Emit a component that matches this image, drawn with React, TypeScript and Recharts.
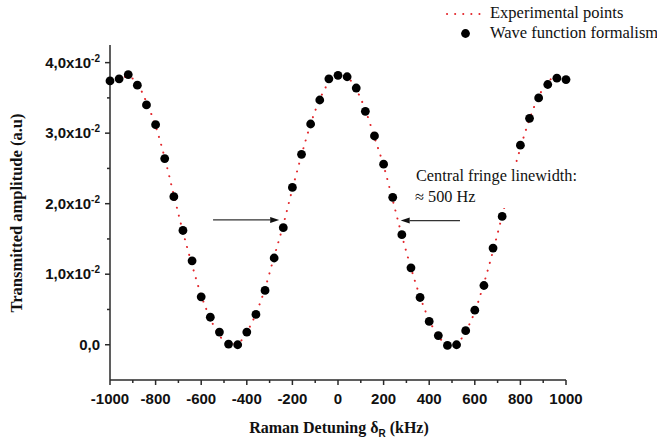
import { ComposedChart, Line, Scatter, XAxis, YAxis, ReferenceLine } from 'recharts'

// detuning in kHz, one point every 40 kHz
const detuning = [
  -1000, -960, -920, -880, -840, -800, -760, -720, -680, -640, -600, -560, -520,
  -480, -440, -400, -360, -320, -280, -240, -200, -160, -120, -80, -40, 0, 40, 80,
  120, 160, 200, 240, 280, 320, 360, 400, 440, 480, 520, 560, 600, 640, 680, 720,
  760, 800, 840, 880, 920, 960, 1000,
]

// black dots
const waveFunction = [
  0.0374, 0.0377, 0.0383, 0.0368, 0.034, 0.0312, 0.0264, 0.021, 0.0162, 0.0119,
  0.0068, 0.0039, 0.0018, 0.0001, 0.0, 0.0018, 0.0043, 0.0077, 0.0123, 0.0166,
  0.0223, 0.027, 0.0313, 0.0347, 0.0377, 0.0382, 0.038, 0.0364, 0.0331, 0.0296,
  0.0256, 0.0209, 0.0156, 0.0109, 0.0067, 0.0033, 0.0013, -0.0001, 0.0, 0.002,
  0.0049, 0.0084, 0.0137, 0.0182, 0.0232, 0.0283, 0.0321, 0.035, 0.0369, 0.0378,
  0.0376,
]

// red dotted curve
const experimental = [
  0.0372, 0.0379, 0.038, 0.037, 0.0344, 0.031, 0.0265, 0.0212, 0.016, 0.0113,
  0.007, 0.0037, 0.0013, 0.0001, 0.0002, 0.0018, 0.0044, 0.008, 0.0125, 0.017,
  0.0221, 0.0269, 0.0313, 0.0348, 0.0372, 0.0382, 0.0379, 0.0362, 0.0333, 0.0294,
  0.0254, 0.0205, 0.0155, 0.0109, 0.0068, 0.0035, 0.0012, 0.0001, 0.0002, 0.0019,
  0.0047, 0.0087, 0.0133, 0.0183, 0.0233, 0.0279, 0.032, 0.0352, 0.0372, 0.0381,
  0.0377,
]

const xMajor = [-1000, -800, -600, -400, -200, 0, 200, 400, 600, 800, 1000]
const xMinor = [-900, -700, -500, -300, -100, 100, 300, 500, 700, 900]
const yMajor = [0, 0.01, 0.02, 0.03, 0.04]
const yMantissa = ['0,0', '1,0', '2,0', '3,0', '4,0']
const yMinor = [0.005, 0.015, 0.025, 0.035]

const rows = detuning.map((x, i) => ({
  x,
  waveFunction: waveFunction[i],
  experimental: experimental[i],
}))

const AXIS = '#2a2a2a'
const RED = '#e3262b'
const SANS = '"Liberation Sans", Arial, sans-serif'
const SERIF = '"Liberation Serif", "Times New Roman", serif'

function XTick({ x, y, payload }: any) {
  const major = xMajor.includes(payload.value)
  return (
    <g>
      <line x1={x} y1={y} x2={x} y2={y + (major ? 5 : 3)} stroke={AXIS} strokeWidth={1.5} />
      {major && (
        <text x={x} y={y + 24} textAnchor="middle" fontFamily={SANS} fontWeight="bold" fontSize={15} fill="#111">
          {payload.value}
        </text>
      )}
    </g>
  )
}

function YTick({ x, y, payload }: any) {
  const idx = yMajor.findIndex((v) => Math.abs(v - payload.value) < 1e-9)
  const major = idx >= 0
  return (
    <g>
      <line x1={x - (major ? 5 : 3)} y1={y} x2={x} y2={y} stroke={AXIS} strokeWidth={1.5} />
      {major && (
        <text x={x - 10} y={y + 5} textAnchor="end" fontFamily={SANS} fontWeight="bold" fontSize={15} fill="#111">
          {idx === 0 ? (
            yMantissa[idx]
          ) : (
            <>
              <tspan>{yMantissa[idx]}x10</tspan>
              <tspan fontSize={10} dy={-6}>-2</tspan>
            </>
          )}
        </text>
      )}
    </g>
  )
}

function Arrow(props: any) {
  const { x1, y1, x2, y2 } = props
  const dir = x2 > x1 ? 1 : -1
  const len = 9
  return (
    <g>
      <line x1={x1} y1={y1} x2={x2 - dir * len} y2={y2} stroke="#333" strokeWidth={1.3} />
      <polygon
        points={`${x2},${y2} ${x2 - dir * len},${y2 - 3} ${x2 - dir * len},${y2 + 3}`}
        fill="#111"
      />
    </g>
  )
}

const Dot = (p: any) => <circle cx={p.cx} cy={p.cy} r={4.4} fill="#000" />

export default function App() {
  return (
    <div style={{ position: 'absolute', left: 0, top: 0, width: 657, height: 444, background: '#fff', overflow: 'hidden' }}>
      <ComposedChart
        width={657}
        height={444}
        data={rows}
        margin={{ top: 45, right: 91, bottom: 0, left: 0 }}
      >
        <XAxis
          type="number"
          dataKey="x"
          domain={[-1000, 1000]}
          ticks={[...xMajor, ...xMinor]}
          interval={0}
          height={64}
          tickSize={0}
          tickMargin={0}
          tickLine={false}
          tick={<XTick />}
          axisLine={{ stroke: AXIS, strokeWidth: 1.5 }}
        />
        <YAxis
          type="number"
          domain={[-0.005, 0.0425]}
          ticks={[...yMajor, ...yMinor]}
          interval={0}
          width={110}
          tickSize={0}
          tickMargin={0}
          tickLine={false}
          tick={<YTick />}
          axisLine={{ stroke: AXIS, strokeWidth: 1.5 }}
          allowDataOverflow
        />
        <Line
          type="monotone"
          dataKey="experimental"
          stroke={RED}
          strokeWidth={2}
          strokeDasharray="0.1 8"
          strokeLinecap="round"
          dot={false}
          isAnimationActive={false}
        />
        <Scatter data={rows} dataKey="waveFunction" shape={Dot} isAnimationActive={false} />
        <ReferenceLine segment={[{ x: -548, y: 0.0177 }, { x: -258, y: 0.0177 }]} shape={Arrow} />
        <ReferenceLine segment={[{ x: 535, y: 0.0176 }, { x: 275, y: 0.0176 }]} shape={Arrow} />
      </ComposedChart>

      <svg width={657} height={444} style={{ position: 'absolute', left: 0, top: 0, pointerEvents: 'none' }}>
        {/* legend */}
        <line x1={447} y1={14} x2={482} y2={14} stroke={RED} strokeWidth={2} strokeDasharray="0.1 8" strokeLinecap="round" />
        <text x={490} y={18} fontFamily={SERIF} fontSize={16.5} fill="#111">Experimental points</text>
        <circle cx={465.5} cy={33.5} r={4.4} fill="#000" />
        <text x={490} y={38} fontFamily={SERIF} fontSize={16.5} fill="#111">Wave function formalism</text>

        {/* annotation */}
        <rect x={410} y={164} width={172} height={44} fill="#fff" />
        <text x={416} y={181} fontFamily={SERIF} fontSize={16.3} fill="#111">Central fringe linewidth:</text>
        <text x={415} y={202} fontFamily={SERIF} fontSize={16.3} fill="#111">≈ 500 Hz</text>

        {/* axis titles */}
        <text x={339} y={433} textAnchor="middle" fontFamily={SERIF} fontWeight="bold" fontSize={16} fill="#111">
          Raman Detuning δ
          <tspan fontFamily={SANS} fontSize={10} dy={4}>R</tspan>
          <tspan dy={-4}> (kHz)</tspan>
        </text>
        <text
          x={22}
          y={213}
          transform="rotate(-90 22 213)"
          textAnchor="middle"
          fontFamily={SERIF}
          fontWeight="bold"
          fontSize={16.5}
          fill="#111"
        >
          Transmitted amplitude (a.u)
        </text>
      </svg>
    </div>
  )
}
